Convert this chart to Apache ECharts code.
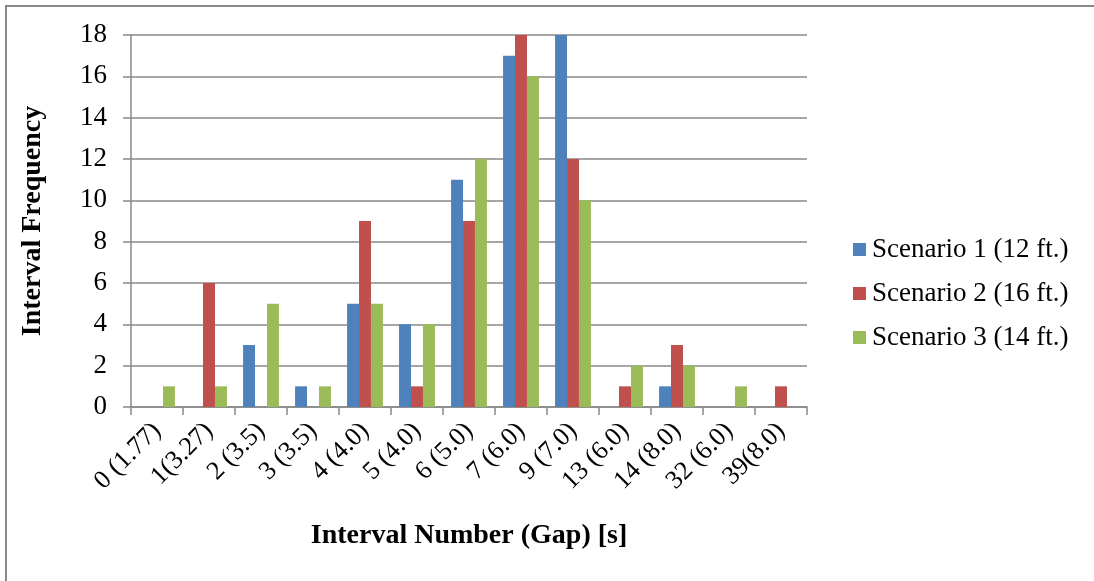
<!DOCTYPE html>
<html>
<head>
<meta charset="utf-8">
<script src="https://cdn.jsdelivr.net/npm/echarts@6/dist/echarts.min.js"></script>
<style>
  html, body { margin: 0; padding: 0; background: #fff; }
  #chart { width: 1094px; height: 581px; }
</style>
</head>
<body>
<div id="chart"></div>
<script>
// Gap intervals and how often each occurred per lane-width scenario
const categories = ['0 (1.77)', '1(3.27)', '2 (3.5)', '3 (3.5)', '4 (4.0)', '5 (4.0)', '6 (5.0)',
  '7 (6.0)', '9 (7.0)', '13 (6.0)', '14 (8.0)', '32 (6.0)', '39(8.0)'];
const scenario1 = [0, 0, 3, 1, 5, 4, 11, 17, 18, 0, 1, 0, 0];
const scenario2 = [0, 6, 0, 0, 9, 1, 9, 18, 12, 1, 3, 0, 1];
const scenario3 = [1, 1, 5, 1, 5, 4, 12, 16, 10, 2, 2, 1, 0];
const seriesNames = ['Scenario 1 (12 ft.)', 'Scenario 2 (16 ft.)', 'Scenario 3 (14 ft.)'];
const yTicks = { min: 0, max: 18, interval: 2 };

const FONT = '"Liberation Serif", "DejaVu Serif", serif';
const colors = ['#4F81BD', '#C0504D', '#9BBB59'];

const chart = echarts.init(document.getElementById('chart'));
const values = [scenario1, scenario2, scenario3];

chart.setOption({
  animation: false,
  backgroundColor: '#fff',
  color: colors,
  textStyle: { fontFamily: FONT },
  grid: { left: 131, top: 35, right: 287, bottom: 174, containLabel: false },
  legend: {
    orient: 'vertical',
    left: 848,
    top: 231,
    itemWidth: 13,
    itemHeight: 13,
    itemGap: 17,
    icon: 'rect',
    textStyle: { fontFamily: FONT, fontSize: 27, color: '#000', padding: [0, 0, 0, 1] },
    data: seriesNames
  },
  xAxis: {
    type: 'category',
    data: categories,
    name: 'Interval Number (Gap) [s]',
    nameLocation: 'middle',
    nameGap: 115,
    nameTextStyle: { fontFamily: FONT, fontSize: 28, fontWeight: 'bold', color: '#000' },
    axisLine: { lineStyle: { color: '#888', width: 1.5 } },
    axisTick: { show: true, alignWithLabel: false, length: 8, lineStyle: { color: '#888', width: 1.5 } },
    axisLabel: { rotate: 45, interval: 0, margin: 20, fontFamily: FONT, fontSize: 26, color: '#000' }
  },
  yAxis: {
    type: 'value',
    min: yTicks.min,
    max: yTicks.max,
    interval: yTicks.interval,
    name: 'Interval Frequency',
    nameLocation: 'middle',
    nameGap: 84,
    nameTextStyle: { fontFamily: FONT, fontSize: 28, fontWeight: 'bold', color: '#000' },
    axisLine: { show: true, lineStyle: { color: '#888', width: 1.5 } },
    axisTick: { show: true, length: 8, lineStyle: { color: '#888', width: 1.5 } },
    axisLabel: { margin: 24, fontFamily: FONT, fontSize: 27, color: '#000' },
    splitLine: { lineStyle: { color: '#888', width: 1.5 } }
  },
  series: seriesNames.map((name, i) => ({
    name: name,
    type: 'bar',
    data: values[i],
    barGap: '0%',
    barCategoryGap: '31%',
    itemStyle: { color: colors[i] }
  })),
  graphic: [
    { type: 'line', shape: { x1: 6, y1: 6, x2: 6, y2: 581 }, style: { stroke: '#888', lineWidth: 2 } },
    { type: 'line', shape: { x1: 5, y1: 6, x2: 1094, y2: 6 }, style: { stroke: '#888', lineWidth: 2 } }
  ]
});
</script>
</body>
</html>
